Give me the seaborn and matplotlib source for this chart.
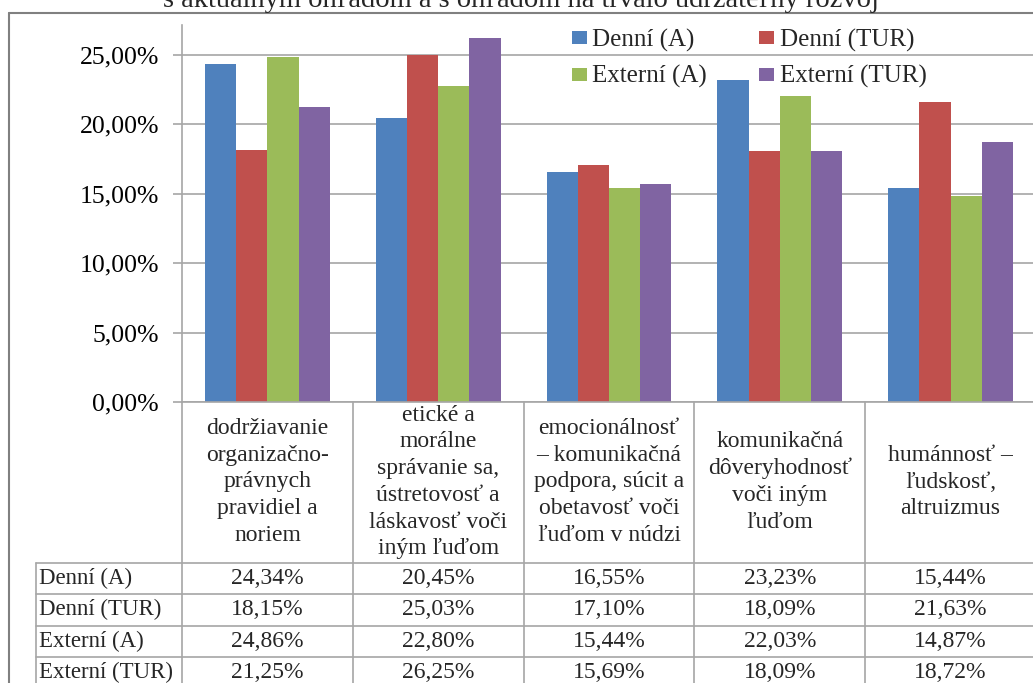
import numpy as np
import pandas as pd
import matplotlib
matplotlib.use("Agg")
import matplotlib.pyplot as plt
import matplotlib.transforms as mtransforms
import seaborn as sns

# --- data ---------------------------------------------------------------
kategorie = [
    "dodržiavanie\norganizačno-\nprávnych\npravidiel a\nnoriem",
    "etické a\nmorálne\nsprávanie sa,\nústretovosť a\nláskavosť voči\niným ľuďom",
    "emocionálnosť\n– komunikačná\npodpora, súcit a\nobetavosť voči\nľuďom v núdzi",
    "komunikačná\ndôveryhodnosť\nvoči iným\nľuďom",
    "humánnosť –\nľudskosť,\naltruizmus",
]
skupiny = ["Denní (A)", "Denní (TUR)", "Externí (A)", "Externí (TUR)"]
denni_a = [24.34, 20.45, 16.55, 23.23, 15.44]
denni_tur = [18.15, 25.03, 17.10, 18.09, 21.63]
externi_a = [24.86, 22.80, 15.44, 22.03, 14.87]
externi_tur = [21.25, 26.25, 15.69, 18.09, 18.72]
farby = ["#4F81BD", "#C0504D", "#9BBB59", "#8064A2"]
y_ticks = [0, 5, 10, 15, 20, 25]
y_tick_labels = ["0,00%", "5,00%", "10,00%", "15,00%", "20,00%", "25,00%"]
nadpis = "s aktuálnym ohľadom a s ohľadom na trvalo udržateľný rozvoj"

serie = [denni_a, denni_tur, externi_a, externi_tur]
df = pd.DataFrame(
    [(k, s, v) for s, hodnoty in zip(skupiny, serie) for k, v in zip(kategorie, hodnoty)],
    columns=["kategoria", "skupina", "podiel"],
)

def fmt(v):
    return f"{v:.2f}".replace(".", ",") + "%"

# --- figure -------------------------------------------------------------
sns.set_style("white")
plt.rcParams["font.family"] = ["Liberation Serif", "DejaVu Serif"]

W, H = 1033, 683
fig = plt.figure(figsize=(W / 100, H / 100), dpi=100)
fig.patch.set_facecolor("white")

grid_c = "#a6a6a6"
frame_c = "#808080"

# plot area in pixel layout
left_px, right_px, top_px, base_px = 182, 1036, 25, 402
ax = fig.add_axes([left_px / W, 1 - base_px / H, (right_px - left_px) / W, (base_px - top_px) / H])
ax.patch.set_alpha(0)

sns.barplot(
    data=df, x="kategoria", y="podiel", hue="skupina",
    order=kategorie, hue_order=skupiny, palette=farby,
    saturation=1, width=0.73, errorbar=None, linewidth=0, ax=ax,
)
handles, labels = ax.get_legend_handles_labels()
ax.get_legend().remove()

ax.set_xlim(-0.5, len(kategorie) - 0.5)
ax.set_ylim(0, 27.16)
ax.set_yticks(y_ticks)
ax.set_yticklabels(y_tick_labels)
ax.set_xticks([])
ax.set_xlabel("")
ax.set_ylabel("")
ax.yaxis.grid(True, color=grid_c, linewidth=1.2)
ax.set_axisbelow(True)
for side in ("top", "right"):
    ax.spines[side].set_visible(False)
for side in ("left", "bottom"):
    ax.spines[side].set_color(grid_c)
    ax.spines[side].set_linewidth(1.2)
ax.tick_params(axis="y", direction="out", length=6.5, width=1.2, color=grid_c,
               labelsize=18.5, pad=10, labelcolor="black", left=True)

# legend laid out row by row: Denní entries on top, Externí below
poradie = [0, 2, 1, 3]
fig.legend(
    [handles[i] for i in poradie], [labels[i] for i in poradie],
    ncol=2, loc="upper left",
    bbox_to_anchor=(559 / W, 1 - 16 / H), bbox_transform=fig.transFigure,
    frameon=False, fontsize=18, borderpad=0, handlelength=0.6, handleheight=0.42,
    handletextpad=0.22, columnspacing=2.1, labelspacing=0.55,
)

# --- data table and frame drawn on a pixel overlay ----------------------
ov = fig.add_axes([0, 0, 1, 1], zorder=3)
ov.set_xlim(0, W)
ov.set_ylim(H, 0)
ov.axis("off")
ov.patch.set_alpha(0)
blend = mtransforms.blended_transform_factory(ax.transData, ov.transData)

header_bottom = 563
row_h = 31.3
row_lines = [header_bottom + i * row_h for i in range(len(skupiny) + 1)]
label_left = 36

# column dividers (category boundaries) from the axis down
for b in np.arange(0.5, len(kategorie) - 0.5, 1.0):
    ov.plot([b, b], [base_px, H], color=grid_c, lw=1.2, transform=blend, clip_on=False)
ov.plot([-0.5, -0.5], [base_px, H], color=grid_c, lw=1.2, transform=blend, clip_on=False)
# row lines and row label column
for y in row_lines[:-1]:
    ov.plot([label_left, W], [y, y], color=grid_c, lw=1.2)
ov.plot([label_left, label_left], [header_bottom, H + 5], color=grid_c, lw=1.2)

# category headers
for i, k in enumerate(kategorie):
    ov.text(i, 482, k, transform=blend, ha="center", va="center",
            multialignment="center", fontsize=17, linespacing=1.36)

# rows of values
for r, (s, hodnoty) in enumerate(zip(skupiny, serie)):
    yc = row_lines[r] + row_h / 2
    ov.text(label_left + 3, yc, s, ha="left", va="center", fontsize=16.5)
    for i, v in enumerate(hodnoty):
        ov.text(i, yc, fmt(v), transform=blend, ha="center", va="center", fontsize=17)

# outer frame
ov.plot([9, 9], [13, H + 5], color=frame_c, lw=1.5, clip_on=False)
ov.plot([9, W + 5], [13, 13], color=frame_c, lw=1.5, clip_on=False)

# title line above the frame
fig.text(521 / W, 1 - 7 / H, nadpis, ha="center", va="baseline", fontsize=20.5)

fig.savefig("out.png", dpi=100)
